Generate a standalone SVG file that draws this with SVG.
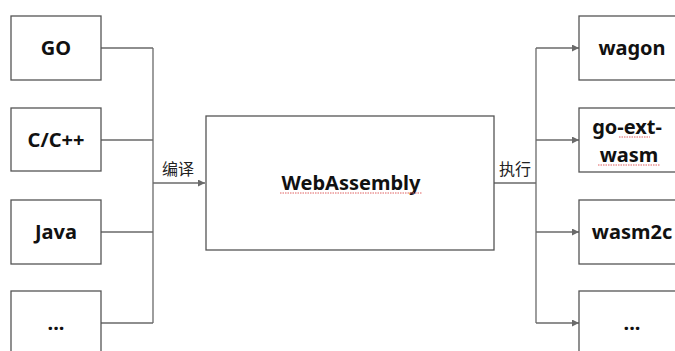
<svg xmlns="http://www.w3.org/2000/svg" width="675" height="351" viewBox="0 0 675 351">
<style>
.box{fill:#fff;stroke:#555;stroke-width:1.3}
.lbl{font-family:"Noto Sans","Liberation Sans",sans-serif;font-weight:bold;font-size:20px;fill:#111;text-anchor:middle}
.cn{font-family:"Noto Sans CJK SC","Noto Sans",sans-serif;font-size:16px;fill:#222}
.ln{fill:none;stroke:#6a6a6a;stroke-width:1.3}
.sq{fill:none;stroke:#e06060;stroke-width:1;stroke-dasharray:1.5 1}
</style>
<defs>
<marker id="ah" viewBox="0 0 10 10" refX="10" refY="5" markerWidth="7" markerHeight="7" markerUnits="userSpaceOnUse" orient="auto">
<path d="M0,0 L10,5 L0,10 z" fill="#6a6a6a"/>
</marker>
</defs>
<rect width="675" height="351" fill="#fff"/>
<g id="connectors">
<path class="ln" d="M101,48 H153 M101,140 H153 M101,232 H153 M101,323 H153 M153,48 V323"/>
<path class="ln" d="M153,183 H205" marker-end="url(#ah)"/>
<path class="ln" d="M494,183 H536 M536,48 V323"/>
<path class="ln" d="M536,48 H579" marker-end="url(#ah)"/>
<path class="ln" d="M536,140 H579" marker-end="url(#ah)"/>
<path class="ln" d="M536,232 H579" marker-end="url(#ah)"/>
<path class="ln" d="M536,323 H579" marker-end="url(#ah)"/>
<text class="cn" x="162" y="175">编译</text>
<text class="cn" x="499" y="175">执行</text>
</g>
<g id="go"><rect class="box" x="11" y="16" width="90" height="64"/><text class="lbl" x="56" y="55">GO</text></g>
<g id="cpp"><rect class="box" x="11" y="108" width="90" height="63"/><text class="lbl" x="56" y="147">C/C++</text></g>
<g id="java"><rect class="box" x="11" y="200" width="90" height="64"/><text class="lbl" x="56" y="239">Java</text></g>
<g id="more-left"><rect class="box" x="11" y="291" width="90" height="70"/><text class="lbl" x="56" y="330">...</text></g>
<g id="wasm"><rect class="box" x="206" y="116" width="288" height="134"/><text class="lbl" x="351" y="190" font-size="22">WebAssembly</text>
<path class="sq" d="M280,193 H422"/></g>
<g id="wagon"><rect class="box" x="579" y="16" width="110" height="64"/><text class="lbl" x="632" y="55">wagon</text></g>
<g id="goext"><rect class="box" x="579" y="108" width="110" height="64"/><text class="lbl" x="627" y="134">go-ext-</text><text class="lbl" x="629" y="162">wasm</text>
<path class="sq" d="M619,137 H650 M598,165 H660"/></g>
<g id="wasm2c"><rect class="box" x="579" y="200" width="110" height="64"/><text class="lbl" x="632" y="239">wasm2c</text></g>
<g id="more-right"><rect class="box" x="579" y="291" width="110" height="70"/><text class="lbl" x="632" y="330">...</text></g>
</svg>
